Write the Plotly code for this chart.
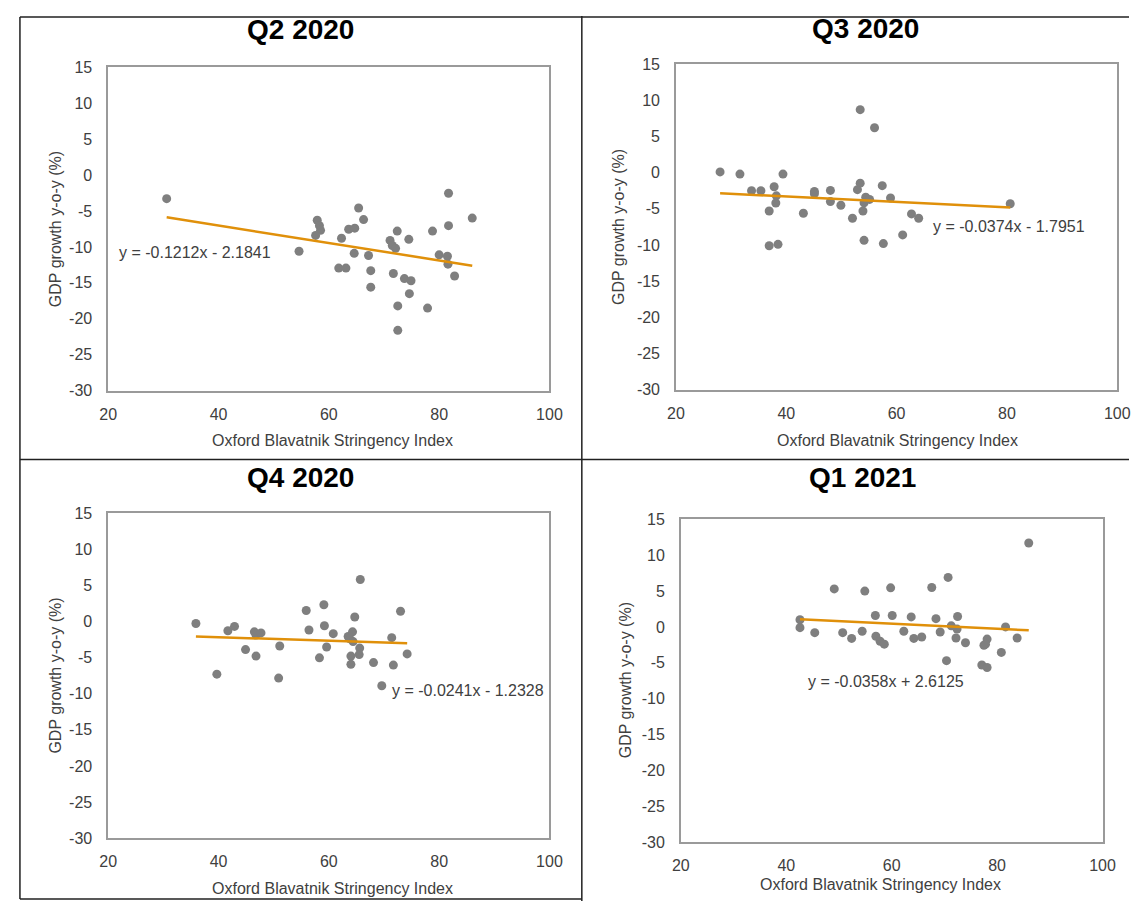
import plotly.graph_objects as go

# page is 1142x910; body has an 8px margin, the figure starts at (8, 8) and runs to the page edge
PAGE_W, PAGE_H = 1142, 910
OFF = 8
W, H = PAGE_W - OFF, PAGE_H - OFF

# ---------------- data ----------------
titles = ["Q2 2020", "Q3 2020", "Q4 2020", "Q1 2021"]

q2_2020_x = [30.6, 54.6, 57.9, 58.3, 58.5, 57.6, 62.3, 61.8, 63.1, 63.6, 64.7, 65.4, 66.3, 64.6, 67.2,
             67.6, 67.6, 71.1, 71.5, 72.1, 72.4, 71.7, 72.5, 72.5, 73.7, 74.9, 74.6, 74.5, 77.9, 78.8,
             80.0, 81.5, 81.6, 81.7, 81.7, 82.8, 86.0]
q2_2020_y = [-3.3, -10.6, -6.3, -7.05, -7.7, -8.4, -8.8, -12.95, -12.95, -7.55, -7.4, -4.6, -6.2, -10.9,
             -11.2, -13.3, -15.6, -9.1, -9.8, -10.2, -7.8, -13.7, -18.2, -21.6, -14.4, -14.7, -16.5,
             -8.95, -18.5, -7.8, -11.1, -11.3, -12.4, -2.55, -7.05, -14.05, -6.0]

q3_2020_x = [28.0, 31.6, 33.7, 35.4, 37.8, 38.2, 38.1, 36.9, 39.4, 36.9, 38.5, 43.1, 45.1, 45.1, 48.0,
             48.0, 49.9, 52.0, 53.4, 56.0, 53.4, 52.9, 54.4, 55.1, 54.1, 53.9, 54.1, 57.4, 58.9, 57.6,
             61.1, 62.7, 64.0, 80.6]
q3_2020_y = [0.1, -0.2, -2.5, -2.5, -1.95, -3.2, -4.2, -5.3, -0.2, -10.1, -9.9, -5.6, -2.6, -2.9, -2.45,
             -4.0, -4.5, -6.3, 8.7, 6.2, -1.45, -2.35, -3.4, -3.7, -4.15, -5.3, -9.35, -1.8, -3.5, -9.8,
             -8.6, -5.7, -6.3, -4.3]

q4_2020_x = [35.9, 39.7, 41.7, 42.9, 44.9, 46.5, 46.8, 47.7, 46.8, 51.1, 50.9, 55.9, 56.4, 59.1, 59.2,
             58.3, 59.6, 60.8, 63.5, 64.3, 63.8, 64.4, 64.7, 65.7, 65.6, 65.5, 64.0, 64.0, 68.1, 71.4,
             71.7, 73.0, 74.2, 69.6]
q4_2020_y = [-0.3, -7.3, -1.3, -0.7, -3.9, -1.45, -1.9, -1.6, -4.8, -3.4, -7.85, 1.5, -1.2, 2.3, -0.6,
             -5.05, -3.55, -1.7, -2.1, -1.45, -2.4, -2.8, 0.6, 5.8, -3.7, -4.6, -4.8, -5.95, -5.7, -2.25,
             -6.05, 1.4, -4.5, -8.9]

q1_2021_x = [42.6, 42.6, 45.4, 49.1, 50.7, 52.4, 54.4, 54.9, 56.9, 57.0, 57.8, 58.6, 59.8, 60.1, 62.3,
             63.7, 64.2, 65.7, 67.6, 68.4, 69.2, 70.7, 70.4, 71.3, 72.5, 72.4, 72.2, 74.0, 77.5, 78.1,
             77.8, 77.1, 78.1, 80.8, 81.6, 83.8, 86.0]
q1_2021_y = [1.0, -0.1, -0.8, 5.3, -0.8, -1.6, -0.6, 5.0, 1.6, -1.3, -2.0, -2.4, 5.45, 1.6, -0.6, 1.4,
             -1.6, -1.4, 5.5, 1.15, -0.7, 6.9, -4.7, 0.15, 1.45, -0.3, -1.55, -2.2, -2.55, -1.7, -2.4,
             -5.3, -5.65, -3.55, 0.0, -1.55, 11.7]

slopes = [-0.1212, -0.0374, -0.0241, -0.0358]
intercepts = [-2.1841, -1.7951, -1.2328, 2.6125]
equations = ["y = -0.1212x - 2.1841", "y = -0.0374x - 1.7951",
             "y = -0.0241x - 1.2328", "y = -0.0358x + 2.6125"]

x_ticks = [20, 40, 60, 80, 100]
y_ticks = [15, 10, 5, 0, -5, -10, -15, -20, -25, -30]
x_title = "Oxford Blavatnik Stringency Index"
y_title = "GDP growth y-o-y (%)"

xs = [q2_2020_x, q3_2020_x, q4_2020_x, q1_2021_x]
ys = [q2_2020_y, q3_2020_y, q4_2020_y, q1_2021_y]

# ---------------- layout geometry (page pixels) ----------------
boxes = [(101, 551, 60, 390), (680, 1130, 57, 389), (101, 551, 514.5, 846), (685, 1115, 521, 850)]
title_pos = [(297, 22), (873, 21), (297, 478), (870, 478)]
xtitle_pos = [(330, 441), (906, 441), (330, 897), (889, 893)]
ytitle_pos = [(48, 225), (622, 223), (47, 680), (628, 685)]
eq_pos = [(110, 249), (940, 223), (388, 695), (813, 686)]


def PX(px):
    return (px - OFF) / W


def PY(py):
    return 1 - (py - OFF) / H


FONT = "Liberation Sans, Arial, sans-serif"
TXT = "#404040"
DOT = "#7f7f7f"
TREND = "#E0900A"

fig = go.Figure()
layout = dict(
    width=W, height=H, margin=dict(l=0, r=0, t=0, b=0),
    paper_bgcolor="white", plot_bgcolor="white", showlegend=False,
    font=dict(family=FONT, size=16, color=TXT),
)
annotations = []
shapes = []

for i in range(4):
    k = "" if i == 0 else str(i + 1)
    xa, ya = "x" + k, "y" + k
    x0, x1, y0, y1 = boxes[i]
    fig.add_trace(go.Scatter(
        x=xs[i], y=ys[i], mode="markers", xaxis=xa, yaxis=ya,
        marker=dict(size=9, color=DOT, line=dict(width=0)), hoverinfo="x+y"))
    tx = [min(xs[i]), max(xs[i])]
    ty = [slopes[i] * v + intercepts[i] for v in tx]
    fig.add_trace(go.Scatter(
        x=tx, y=ty, mode="lines", xaxis=xa, yaxis=ya,
        line=dict(color=TREND, width=2.5), hoverinfo="skip"))
    axis_common = dict(showgrid=False, zeroline=False, showline=True, mirror=True,
                       linecolor="#9a9a9a", linewidth=1.5, ticks="",
                       tickfont=dict(family=FONT, size=16, color=TXT))
    layout["xaxis" + k] = dict(axis_common, domain=[PX(x0), PX(x1)], anchor=ya,
                               range=[20, 100], tickmode="array", tickvals=x_ticks,
                               ticktext=[str(v) for v in x_ticks], ticklabelstandoff=8)
    layout["yaxis" + k] = dict(axis_common, domain=[PY(y1), PY(y0)], anchor=xa,
                               range=[-30, 15], tickmode="array", tickvals=y_ticks,
                               ticktext=[str(v) for v in y_ticks], ticklabelstandoff=11)
    annotations.append(dict(text="<b>" + titles[i] + "</b>", x=PX(title_pos[i][0]), y=PY(title_pos[i][1]),
                            xref="paper", yref="paper", showarrow=False, xanchor="center", yanchor="middle",
                            font=dict(family=FONT, size=28, color="black")))
    annotations.append(dict(text=x_title, x=PX(xtitle_pos[i][0]), y=PY(xtitle_pos[i][1]),
                            xref="paper", yref="paper", showarrow=False, xanchor="center", yanchor="middle",
                            font=dict(family=FONT, size=16, color=TXT)))
    annotations.append(dict(text=y_title, x=PX(ytitle_pos[i][0]), y=PY(ytitle_pos[i][1]),
                            xref="paper", yref="paper", showarrow=False, xanchor="center", yanchor="middle",
                            textangle=-90, font=dict(family=FONT, size=16, color=TXT)))
    annotations.append(dict(text=equations[i], x=PX(eq_pos[i][0]), y=PY(eq_pos[i][1]),
                            xref="paper", yref="paper", showarrow=False, xanchor="left", yanchor="middle",
                            font=dict(family=FONT, size=16, color=TXT)))

# grid of cell borders (page pixels)
line_style = dict(color="#202020", width=1.5)
for (ax0, ay0, ax1, ay1) in [(584, OFF, 584, PAGE_H), (11, 460, PAGE_W, 460),
                             (11, OFF + 1, 11, 908), (11, OFF + 1, PAGE_W, OFF + 1),
                             (11, 908, 584, 908)]:
    shapes.append(dict(type="line", xref="paper", yref="paper",
                       x0=PX(ax0), y0=PY(ay0), x1=PX(ax1), y1=PY(ay1), line=line_style))

layout["annotations"] = annotations
layout["shapes"] = shapes
fig.update_layout(**layout)
fig.write_html("out.html")
